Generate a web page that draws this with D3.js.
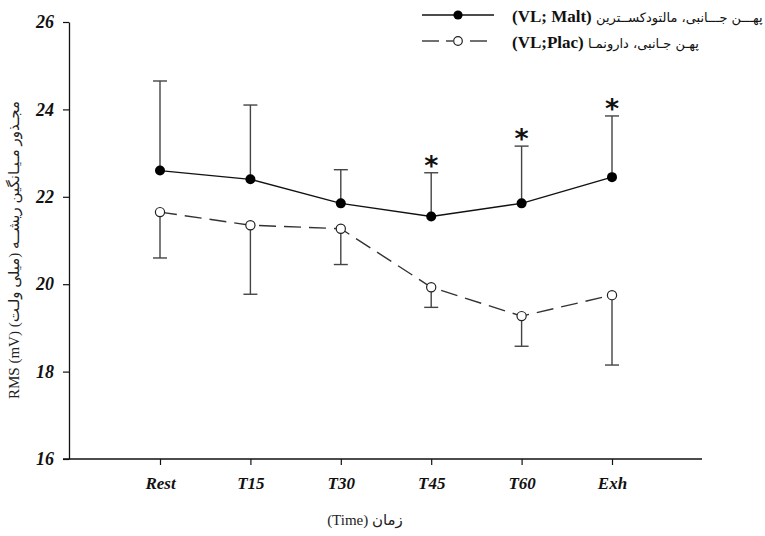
<!DOCTYPE html>
<html><head><meta charset="utf-8">
<script src="https://cdn.jsdelivr.net/npm/d3@7"></script>
<style>body{margin:0;background:#fff}svg{display:block}</style>
</head><body>
<svg id="c" width="765" height="536"></svg>
<script>
const categories = ["Rest","T15","T30","T45","T60","Exh"];
const maltMean  = [22.6, 22.4, 21.85, 21.55, 21.85, 22.45];
const maltUpper = [24.65, 24.1, 22.62, 22.55, 23.16, 23.85];
const placMean  = [21.65, 21.35, 21.27, 19.93, 19.27, 19.75];
const placLower = [20.6, 19.77, 20.45, 19.47, 18.58, 18.15];
const significant = ["T45","T60","Exh"];
const yTicks = [16,18,20,22,24,26];
const legendMaltCode = "(VL; Malt)";
const legendMaltName = "پهـــن جـــانبی، مالتودکســترین";
const legendPlacCode = "(VL;Plac)";
const legendPlacName = "پهـن جـانبی، دارونمـا";
const yTitle = "RMS (mV) مجـذور مـیـانگین ریشــه (میلی ولـت)";
const xTitle = "(Time) زمان";

const svg = d3.select("#c");
const x = d3.scalePoint().domain(categories).range([160, 612]);
const y = d3.scaleLinear().domain([16, 26]).range([459, 22]);
const axisX0 = 69;

// Axes
const tickFont = "'Liberation Serif', 'DejaVu Serif', serif";
const gy = svg.append("g").attr("transform", `translate(${axisX0},0)`)
  .call(d3.axisLeft(y).tickValues(yTicks).tickSize(6).tickSizeOuter(0).tickPadding(9));
gy.select(".domain").attr("stroke", "#111").attr("stroke-width", 1.3);
gy.selectAll(".tick line").attr("stroke", "#111").attr("stroke-width", 1.2);
gy.selectAll(".tick text").attr("font-family", tickFont).attr("font-weight", "bold")
  .attr("font-style", "italic").attr("font-size", 18).attr("fill", "#111");

const gx = svg.append("g").attr("transform", `translate(0,459)`)
  .call(d3.axisBottom(x).tickSize(6).tickSizeOuter(0).tickPadding(12));
gx.select(".domain").remove();
gx.append("line").attr("x1", 63).attr("x2", 702).attr("y1", 0).attr("y2", 0)
  .attr("stroke", "#111").attr("stroke-width", 1.3);
gx.selectAll(".tick line").attr("stroke", "#111").attr("stroke-width", 1.2);
gx.selectAll(".tick text").attr("font-family", tickFont).attr("font-weight", "bold")
  .attr("font-style", "italic").attr("font-size", 17).attr("fill", "#111");

// Axis titles
svg.append("text").attr("transform", "translate(19,250) rotate(-90)")
  .attr("text-anchor", "middle").attr("font-family", "'Liberation Serif', 'DejaVu Sans', serif")
  .attr("font-size", 15).attr("fill", "#222").text(yTitle);
svg.append("text").attr("x", 365).attr("y", 525).attr("text-anchor", "middle")
  .attr("font-family", "'Liberation Serif', 'DejaVu Sans', serif")
  .attr("font-size", 15).attr("fill", "#222").text(xTitle);

// Error bars
const capW = 7;
function errBars(means, ends) {
  const g = svg.append("g").attr("stroke", "#444").attr("stroke-width", 1.4);
  categories.forEach((c, i) => {
    g.append("line").attr("x1", x(c)).attr("x2", x(c)).attr("y1", y(means[i])).attr("y2", y(ends[i]));
    g.append("line").attr("x1", x(c) - capW).attr("x2", x(c) + capW).attr("y1", y(ends[i])).attr("y2", y(ends[i]));
  });
}
errBars(maltMean, maltUpper);
errBars(placMean, placLower);

// Lines
const line = d3.line().x((d, i) => x(categories[i])).y(d => y(d));
svg.append("path").datum(maltMean).attr("d", line).attr("fill", "none")
  .attr("stroke", "#111").attr("stroke-width", 1.4);
svg.append("path").datum(placMean).attr("d", line).attr("fill", "none")
  .attr("stroke", "#333").attr("stroke-width", 1.4).attr("stroke-dasharray", "17,8");

// Markers
svg.selectAll(".mm").data(maltMean).enter().append("circle")
  .attr("cx", (d, i) => x(categories[i])).attr("cy", d => y(d)).attr("r", 5)
  .attr("fill", "#000");
svg.selectAll(".pm").data(placMean).enter().append("circle")
  .attr("cx", (d, i) => x(categories[i])).attr("cy", d => y(d)).attr("r", 4.6)
  .attr("fill", "#fff").attr("stroke", "#222").attr("stroke-width", 1.2);

// Asterisks
significant.forEach(c => {
  const i = categories.indexOf(c);
  svg.append("text").attr("x", x(c)).attr("y", y(maltUpper[i]) + 2)
    .attr("text-anchor", "middle").attr("font-family", "'DejaVu Sans', sans-serif")
    .attr("font-weight", "bold").attr("font-size", 27).attr("fill", "#111").text("*");
});

// Legend
const lg = svg.append("g");
lg.append("line").attr("x1", 422).attr("x2", 494).attr("y1", 15).attr("y2", 15)
  .attr("stroke", "#111").attr("stroke-width", 1.4);
lg.append("circle").attr("cx", 458).attr("cy", 15).attr("r", 4.6).attr("fill", "#000");
[[422, 439], [446, 453], [470, 487]].forEach(s => {
  lg.append("line").attr("x1", s[0]).attr("x2", s[1]).attr("y1", 41).attr("y2", 41)
    .attr("stroke", "#333").attr("stroke-width", 1.4);
});
lg.append("circle").attr("cx", 458).attr("cy", 41).attr("r", 4.3)
  .attr("fill", "#fff").attr("stroke", "#222").attr("stroke-width", 1.2);
function legendText(yPos, code, name) {
  const t = lg.append("text").attr("x", 512).attr("y", yPos).attr("fill", "#111");
  t.append("tspan").attr("font-family", "'Liberation Serif', serif").attr("font-size", 17)
    .attr("font-weight", "bold").text(code + " ");
  t.append("tspan").attr("font-family", "'DejaVu Sans', sans-serif").attr("font-size", 13).text(name);
}
legendText(22, legendMaltCode, legendMaltName);
legendText(48, legendPlacCode, legendPlacName);
</script>
</body></html>
